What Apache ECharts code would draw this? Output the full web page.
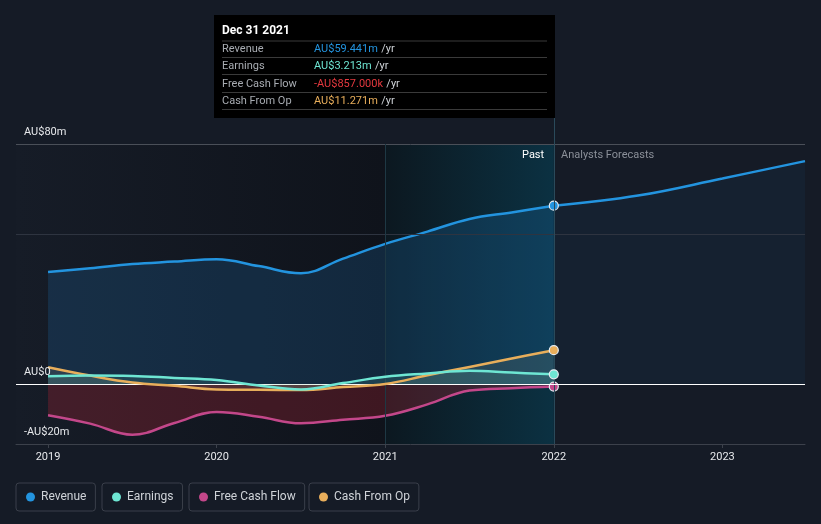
<!DOCTYPE html>
<html>
<head>
<meta charset="utf-8">
<script src="https://cdn.jsdelivr.net/npm/echarts@6/dist/echarts.min.js"></script>
<style>
html,body{margin:0;padding:0;background:#151b26;}
#chart{width:821px;height:524px;}
</style>
</head>
<body>
<div id="chart"></div>
<script>
// ---- data ----
const pastYears = [2019.0, 2019.25, 2019.5, 2019.75, 2020.0, 2020.25, 2020.5, 2020.75, 2021.0, 2021.25, 2021.5, 2021.75, 2022.0];
const revenue   = [37.3, 38.6, 40.0, 40.8, 41.6, 39.3, 36.9, 41.8, 46.7, 50.8, 55.0, 57.2, 59.441];
const earnings  = [2.6, 2.8, 2.7, 2.0, 1.3, -0.5, -1.8, 0.3, 2.4, 3.5, 4.4, 3.8, 3.213];
const freeCashFlow = [-10.4, -13.2, -16.9, -13.0, -9.3, -10.9, -13.1, -11.9, -10.6, -6.8, -2.2, -1.4, -0.857];
const cashFromOp   = [5.6, 2.8, 0.5, -0.6, -1.8, -1.9, -2.0, -1.0, 0.0, 2.9, 5.7, 8.5, 11.271];
const forecastYears = [2022.0, 2022.5, 2023.0, 2023.49];
const revenueForecast = [59.441, 62.8, 68.5, 74.3];
const xTickYears = [2019, 2020, 2021, 2022, 2023];
const yTickLabels = {'-20': '-AU$20m', '0': 'AU$0', '80': 'AU$80m'};
const tipTitle = 'Dec 31 2021';
const tipRows = [
  ['Revenue', 'AU$59.441m', '#2394df'],
  ['Earnings', 'AU$3.213m', '#6ee6d3'],
  ['Free Cash Flow', '-AU$857.000k', '#e5393f'],
  ['Cash From Op', 'AU$11.271m', '#e8ae5b']
];

const C = {rev:'#2394df', earn:'#6ee6d3', fcf:'#c3478a', cfo:'#e8ae5b'};
const FONT = 'Roboto, "Noto Sans", sans-serif';

function pairs(xs, ys){ return xs.map((x,i)=>[x, ys[i]]); }
function withEnd(xs, ys, color){
  const d = pairs(xs, ys);
  const last = d.length-1;
  d[last] = {value: d[last], symbol:'circle', symbolSize:9,
    itemStyle:{color: color, borderColor:'#e8edf2', borderWidth:1.2}};
  return d;
}

const chart = echarts.init(document.getElementById('chart'));

const tipChildren = [
  {type:'rect', shape:{x:0,y:0,width:341,height:103}, style:{fill:'#000000'}},
  {type:'text', x:8, y:16, style:{text:tipTitle, fill:'#ffffff', font:'bold 12px '+FONT, verticalAlign:'middle'}}
];
const rowY = [34, 51, 69, 86];
tipChildren.push({type:'line', shape:{x1:8,y1:26,x2:333,y2:26}, style:{stroke:'#3a3a3a', lineWidth:1}});
tipRows.forEach((r,i)=>{
  tipChildren.push({type:'text', x:8, y:rowY[i], style:{text:r[0], fill:'#a8acb2', font:'11px '+FONT, verticalAlign:'middle'}});
  tipChildren.push({type:'text', x:100, y:rowY[i], style:{
    text:'{v|'+r[1]+'} {u|/yr}', verticalAlign:'middle',
    rich:{v:{fill:r[2], font:'11px '+FONT}, u:{fill:'#cfd3d8', font:'11px '+FONT}}}});
  tipChildren.push({type:'line', shape:{x1:8,y1:rowY[i]+8.5,x2:333,y2:rowY[i]+8.5}, style:{stroke:'#3a3a3a', lineWidth:1}});
});

function legendBox(name, left, color){
  return {
    data:[{name:name, itemStyle:{color:color}}], left:left, top:483,
    orient:'horizontal', icon:'circle', itemWidth:9, itemHeight:9, itemGap:0,
    padding:[8,9,8,10], borderColor:'#3a3f4a', borderWidth:1, borderRadius:3,
    textStyle:{color:'#cfd3d8', fontSize:12, fontFamily:FONT, padding:[0,0,0,1]},
    selectedMode:false
  };
}

const option = {
  backgroundColor:'#151b26',
  animation:false,
  grid:{left:16, right:16, top:118, bottom:80},
  legend:[
    legendBox('Revenue', 16, C.rev),
    legendBox('Earnings', 102, C.earn),
    legendBox('Free Cash Flow', 189, C.fcf),
    legendBox('Cash From Op', 309, C.cfo)
  ],
  xAxis:{
    type:'value', min:2018.81, max:2023.49,
    axisLine:{show:true, onZero:false, lineStyle:{color:'#3c414b'}},
    axisTick:{show:true, customValues:xTickYears, length:4, lineStyle:{color:'#3c414b'}},
    axisLabel:{customValues:xTickYears, color:'#e6e8eb', fontSize:11, fontFamily:FONT, margin:8,
      formatter:v=>String(Math.round(v))},
    splitLine:{show:false}
  },
  yAxis:{
    type:'value', min:-20, max:88.667, interval:10, z:20,
    axisLine:{show:false}, axisTick:{show:false}, splitLine:{show:false},
    axisLabel:{inside:true, margin:8, verticalAlign:'bottom', lineHeight:24, interval:0,
      color:'#e6e8eb', fontSize:11, fontFamily:FONT, showMaxLabel:false, showMinLabel:true, hideOverlap:false,
      formatter:v=>yTickLabels[String(Math.round(v))] || ''}
  },
  graphic:[
    {type:'group', left:214, top:15, z:100, children:tipChildren},
    {type:'text', left:522, top:150, z:100, style:{text:'Past', fill:'#ffffff', font:'11px '+FONT}},
    {type:'text', left:561, top:150, z:100, style:{text:'Analysts Forecasts', fill:'#8b9099', font:'11px '+FONT}}
  ],
  series:[
    {
      type:'line', name:'bg', data:[], silent:true, z:1,
      markArea:{silent:true, data:[
        [{xAxis:2018.81, yAxis:80, itemStyle:{color:new echarts.graphic.LinearGradient(0,0,1,0,[{offset:0,color:'#161c27'},{offset:1,color:'#0f131b'}])}},{xAxis:2021, yAxis:-20}],
        [{xAxis:2021, yAxis:80, itemStyle:{color:new echarts.graphic.LinearGradient(0,0,1,0,[{offset:0,color:'#0c1820'},{offset:1,color:'#0b3142'}])}},{xAxis:2022, yAxis:-20}]
      ]},
      markLine:{silent:true, symbol:'none', label:{show:false}, data:[
        {yAxis:80, lineStyle:{color:'#4a4f58', width:1, type:'solid'}},
        {yAxis:50, lineStyle:{color:'#2e3440', width:1, type:'solid'}},
        [{coord:[2021,-20]},{coord:[2021,80], lineStyle:{color:'#1e3844', width:1, type:'solid'}}],
        [{coord:[2022,-20]},{coord:[2022,88.667], lineStyle:{color:'#2a4a5a', width:1, type:'solid'}}]
      ]}
    },
    {
      type:'line', name:'Revenue', data:pairs(forecastYears, revenueForecast), smooth:0.4,
      showSymbol:false, lineStyle:{color:C.rev, width:2.5}, itemStyle:{color:C.rev},
      areaStyle:{color:'rgba(35,110,180,0.10)', origin:0}, z:2
    },
    {
      type:'line', name:'Revenue', data:withEnd(pastYears, revenue, C.rev), smooth:0.4,
      symbol:'none', lineStyle:{color:C.rev, width:2.5}, itemStyle:{color:C.rev},
      areaStyle:{color:'rgba(30,115,185,0.32)', origin:0}, z:3
    },
    {
      type:'line', name:'Free Cash Flow', data:withEnd(pastYears, freeCashFlow, C.fcf), smooth:0.4,
      symbol:'none', lineStyle:{color:C.fcf, width:2.5}, itemStyle:{color:C.fcf},
      areaStyle:{color:'rgba(220,40,55,0.33)', origin:0}, z:4
    },
    {
      type:'line', name:'Cash From Op', data:withEnd(pastYears, cashFromOp, C.cfo), smooth:0.4,
      symbol:'none', lineStyle:{color:C.cfo, width:2.5}, itemStyle:{color:C.cfo},
      areaStyle:{color:'rgba(200,180,140,0.18)', origin:0}, z:5
    },
    {
      type:'line', name:'Earnings', data:withEnd(pastYears, earnings, C.earn), smooth:0.4,
      symbol:'none', lineStyle:{color:C.earn, width:2.5}, itemStyle:{color:C.earn},
      areaStyle:{color:'rgba(110,230,211,0.18)', origin:0}, z:5
    },
    {
      type:'line', name:'zero', data:[], silent:true, z:6,
      markLine:{silent:true, symbol:'none', label:{show:false}, data:[
        {yAxis:0, lineStyle:{color:'#ffffff', width:1.2, type:'solid'}}
      ]}
    }
  ]
};
chart.setOption(option);
</script>
</body>
</html>
